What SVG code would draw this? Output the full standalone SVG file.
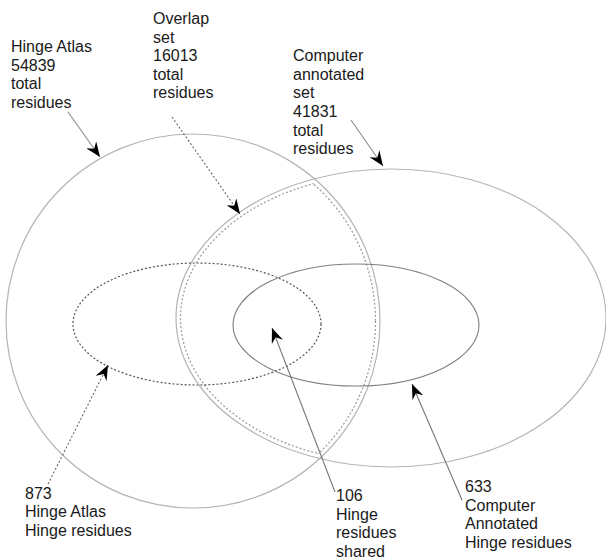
<svg xmlns="http://www.w3.org/2000/svg" width="606" height="560" viewBox="0 0 606 560">
<style>
text{font-family:"Liberation Sans",Arial,sans-serif;font-size:16px;fill:#1a1a1a}
.set{fill:none;stroke:#b4b4b4;stroke-width:1.2}
.dot{fill:none;stroke:#555;stroke-width:1.2;stroke-dasharray:2 2}
.hinge{fill:none;stroke:#808080;stroke-width:1.1}
.lead{fill:none;stroke:#8a8a8a;stroke-width:1.1;marker-end:url(#ah)}
.leaddot{fill:none;stroke:#666;stroke-width:1.1;stroke-dasharray:2 2;marker-end:url(#ah)}
</style>
<defs>
<marker id="ah" markerUnits="userSpaceOnUse" viewBox="-15 -6 15 12" refX="0" refY="0" markerWidth="15" markerHeight="12" orient="auto">
<path d="M0,0 L-15,-6 L-10,0 L-15,6 Z" fill="#000"/>
</marker>
<clipPath id="clipCircIn"><circle cx="193" cy="321" r="183"/></clipPath>
<clipPath id="clipEllIn"><ellipse cx="391" cy="318" rx="211" ry="145"/></clipPath>
</defs>
<rect width="606" height="560" fill="#fff"/>

<g id="hinge-atlas-set">
<circle class="set" cx="193" cy="321" r="187"/>
</g>
<g id="computer-annotated-set">
<ellipse class="set" cx="391" cy="318" rx="215" ry="149"/>
</g>
<g id="overlap-set">
<circle class="dot" style="stroke:#999" cx="193" cy="321" r="182.5" clip-path="url(#clipEllIn)"/>
<ellipse class="dot" style="stroke:#999" cx="391" cy="318" rx="210.5" ry="144.5" clip-path="url(#clipCircIn)"/>
</g>
<g id="hinge-atlas-hinges">
<ellipse class="dot" cx="197" cy="324" rx="124" ry="61"/>
</g>
<g id="computer-annotated-hinges">
<ellipse class="hinge" cx="356" cy="325" rx="123" ry="61"/>
</g>

<g id="connectors">
<line class="lead" x1="68" y1="112" x2="100" y2="157"/>
<line class="leaddot" x1="172" y1="117" x2="240" y2="214"/>
<line class="lead" x1="351" y1="120" x2="383" y2="166"/>
<line class="leaddot" x1="48" y1="484" x2="108" y2="365"/>
<line class="lead" style="stroke:#777" x1="335" y1="492" x2="272" y2="328"/>
<line class="lead" style="stroke:#777" x1="462" y1="500" x2="412" y2="384"/>
</g>

<g id="labels">
<text x="11" y="52">Hinge Atlas</text>
<text x="11" y="71">54839</text>
<text x="11" y="89">total</text>
<text x="11" y="108">residues</text>

<text x="153" y="24">Overlap</text>
<text x="153" y="42.5">set</text>
<text x="153" y="61">16013</text>
<text x="153" y="80">total</text>
<text x="153" y="98">residues</text>

<text x="293" y="61">Computer</text>
<text x="293" y="80">annotated</text>
<text x="293" y="98">set</text>
<text x="293" y="117">41831</text>
<text x="293" y="136">total</text>
<text x="293" y="154">residues</text>

<text x="25" y="499">873</text>
<text x="25" y="517">Hinge Atlas</text>
<text x="25" y="536">Hinge residues</text>

<text x="336" y="501">106</text>
<text x="336" y="519.5">Hinge</text>
<text x="336" y="538">residues</text>
<text x="336" y="556.5">shared</text>

<text x="465" y="492">633</text>
<text x="465" y="510.5">Computer</text>
<text x="465" y="529">Annotated</text>
<text x="465" y="547.5">Hinge residues</text>
</g>
</svg>
